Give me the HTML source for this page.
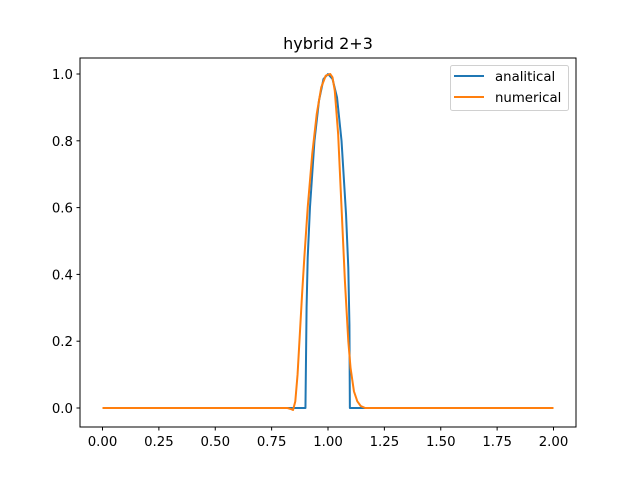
<!DOCTYPE html>
<html><head><meta charset="utf-8"><style>
body{margin:0;background:#fff}
text{font-family:"DejaVu Sans","Liberation Sans",sans-serif}
</style></head><body>
<svg id="c" width="640" height="480" xmlns="http://www.w3.org/2000/svg">
<rect width="640" height="480" fill="#fff"/>
<text x="328" y="49" font-size="16" text-anchor="middle">hybrid 2+3</text>
<g id="plot"></g>
<rect x="80" y="58" width="496" height="369" fill="none" stroke="#000" stroke-width="1"/>
<g>
<rect x="450.5" y="65.5" width="118" height="45" rx="2" fill="#fff" stroke="#ccc" opacity="0.9"/>
<line x1="454" y1="76" x2="484" y2="76" stroke="#1f77b4" stroke-width="2"/>
<text x="495" y="81" font-size="13.3">analitical</text>
<line x1="454" y1="97" x2="484" y2="97" stroke="#ff7f0e" stroke-width="2"/>
<text x="495" y="102" font-size="13.3">numerical</text>
</g>
</svg>
<script>
const xTicks=[0,0.25,0.5,0.75,1.0,1.25,1.5,1.75,2.0];
const xTickLabels=["0.00","0.25","0.50","0.75","1.00","1.25","1.50","1.75","2.00"];
const yTicks=[0,0.2,0.4,0.6,0.8,1.0];
const yTickLabels=["0.0","0.2","0.4","0.6","0.8","1.0"];
const anaX=[0,0.90,0.905,0.91,0.92,0.94,0.96,0.98,1.0,1.02,1.04,1.06,1.08,1.09,1.095,1.097,2.0];
const anaY=[0,0,0.3,0.45,0.6,0.8,0.92,0.985,1.0,0.985,0.93,0.8,0.58,0.42,0.25,0,0];
const numX=[0,0.82,0.835,0.845,0.855,0.865,0.875,0.885,0.895,0.91,0.93,0.95,0.97,0.99,1.01,1.02,1.03,1.045,1.06,1.075,1.09,1.10,1.115,1.13,1.145,1.165,2.0];
const numY=[0,0,-0.003,-0.006,0.02,0.1,0.22,0.34,0.45,0.6,0.76,0.88,0.96,0.995,1.0,0.99,0.95,0.82,0.6,0.38,0.2,0.12,0.05,0.02,0.006,0,0];
const NS="http://www.w3.org/2000/svg";
const X=v=>102.5+v*225.5, Y=v=>408-v*334;
const g=document.getElementById('plot');
function el(t,a){const e=document.createElementNS(NS,t);for(const k in a)e.setAttribute(k,a[k]);g.appendChild(e);return e;}
xTicks.forEach((v,i)=>{
 const l=el('line',{x1:X(v),x2:X(v),y1:427,y2:430.5,stroke:'#000'});
 
 
 const t=el('text',{x:X(v),y:446,'font-size':'13.3','text-anchor':'middle'});
 t.textContent=xTickLabels[i];
 
 
});
yTicks.forEach((v,i)=>{
 const l=el('line',{x1:76.5,x2:80,y1:Y(v),y2:Y(v),stroke:'#000'});
 
 
 const t=el('text',{x:73,y:Y(v)+5,'font-size':'13.3','text-anchor':'end'});
 t.textContent=yTickLabels[i];
 
 
});
function line(xs,ys,c,n){
 const p=el('polyline',{points:xs.map((x,i)=>X(x)+','+Y(ys[i])).join(' '),fill:'none',stroke:c,'stroke-width':2,'stroke-linejoin':'round'});
 
 
}
line(anaX,anaY,'#1f77b4','analitical-line');
line(numX,numY,'#ff7f0e','numerical-line');
</script>
</body></html>
